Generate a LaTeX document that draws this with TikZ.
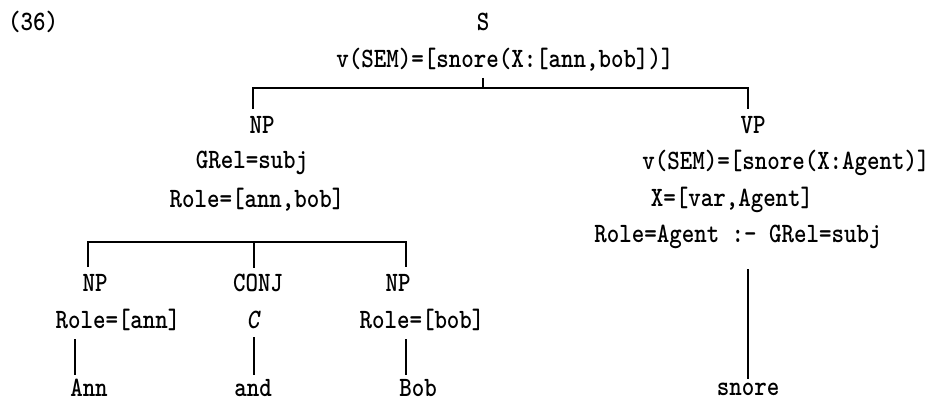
\documentclass[tikz,border=0pt]{standalone}
\usepackage{fontspec}
\setmainfont{lmmonolt10-bold.otf}[FakeStretch=0.85,ItalicFont=lmmonolt10-boldoblique.otf]
\begin{document}
\begin{tikzpicture}[x=1pt,y=-1pt,
  lbl/.style={inner sep=0pt,font=\fontsize{28}{28}\selectfont},
  tree/.style={line width=1.3pt,line cap=butt}]
\useasboundingbox (0,0) rectangle (933,403);
% labels
\node[lbl,anchor=west] (ex) at (8,22) {(36)};
\node[lbl] (S) at (483,22) {S};
\node[lbl] (Ssem) at (505,60) {v(SEM)=[snore(X:[ann,bob])]};
\node[lbl] (NP) at (262,125) {NP};
\node[lbl] (NPg) at (252,163) {GRel=subj};
\node[lbl] (NPr) at (257,200) {Role=[ann,bob]};
\node[lbl] (VP) at (753,125) {VP};
\node[lbl] (VPs) at (786,163) {v(SEM)=[snore(X:Agent)]};
\node[lbl] (VPx) at (732,200) {X=[var,Agent]};
\node[lbl] (VPr) at (738,237) {Role=Agent :- GRel=subj};
\node[lbl] (NPa) at (95,283) {NP};
\node[lbl] (CJ) at (258,283) {CONJ};
\node[lbl] (NPb) at (398,283) {NP};
\node[lbl] (NPar) at (118,320) {Role=[ann]};
\node[lbl] (CJc) at (253,320) {\itshape C};
\node[lbl] (NPbr) at (422,320) {Role=[bob]};
\node[lbl] (Ann) at (89,388) {Ann};
\node[lbl] (and) at (253,388) {and};
\node[lbl] (Bob) at (418,388) {Bob};
\node[lbl] (snore) at (748,389) {snore};
% junction points
\coordinate (st1) at (483,78);
\coordinate (b1) at (483,88);
\coordinate (b1L) at (253,88);
\coordinate (b1R) at (748,88);
\coordinate (b2L) at (88,242);
\coordinate (b2M) at (254,242);
\coordinate (b2R) at (406,242);
\coordinate (lA) at (75,0);
% top branch
\draw[tree] (st1) -- (b1);
\draw[tree] ([yshift=7pt]NP.north -| b1L) -- (b1L) -- (b1R) -- ([yshift=7pt]VP.north -| b1R);
% NP coordination
\draw[tree] ([yshift=7pt]NPa.north -| b2L) -- (b2L) -- (b2R) -- ([yshift=7pt]NPb.north -| b2R);
\draw[tree] (b2M) -- ([yshift=6pt]CJ.north -| b2M);
% leaves
\draw[tree] ([yshift=-8pt]NPar.south -| lA) -- ([yshift=4pt]Ann.north -| lA);
\draw[tree] ([yshift=-8pt]CJc.south -| b2M) -- ([yshift=4pt]and.north -| b2M);
\draw[tree] ([yshift=-8pt]NPbr.south -| b2R) -- ([yshift=4pt]Bob.north -| b2R);
\draw[tree] ([yshift=-20pt]VPr.south -| b1R) -- ([yshift=4pt]snore.north -| b1R);
\end{tikzpicture}
\end{document}
